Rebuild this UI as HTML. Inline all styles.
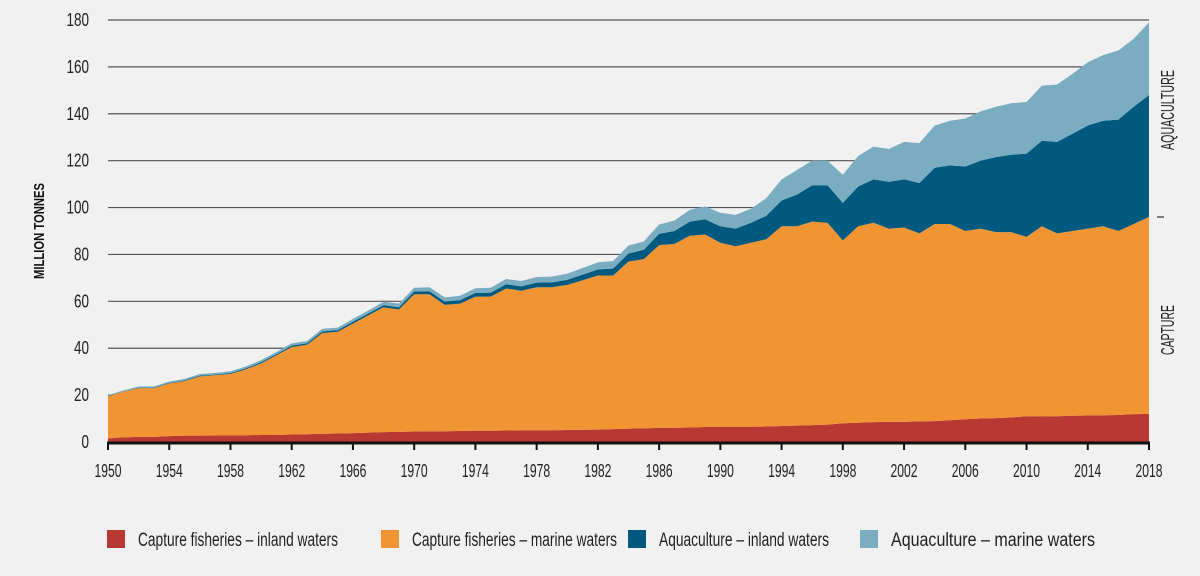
<!DOCTYPE html>
<html><head><meta charset="utf-8">
<style>
html,body{margin:0;padding:0;background:#f1f1f1;}
svg{display:block;font-family:"Liberation Sans Narrow","Liberation Sans",sans-serif;}
</style></head>
<body>
<svg id="chart" width="1200" height="576" viewBox="0 0 1200 576" xmlns="http://www.w3.org/2000/svg">
<rect x="0" y="0" width="1200" height="576" fill="#f1f1f1"/>
<g id="grid"></g>
<g id="areas"></g>
<g id="axes"></g>
<text transform="translate(44,231) rotate(-90)" text-anchor="middle" font-size="15" font-weight="bold" fill="#111" textLength="96" lengthAdjust="spacingAndGlyphs">MILLION TONNES</text>
<text transform="translate(1174,110) rotate(-90)" text-anchor="middle" font-size="18" fill="#222" textLength="80" lengthAdjust="spacingAndGlyphs">AQUACULTURE</text>
<line x1="1157" x2="1164" y1="217" y2="217" stroke="#333" stroke-width="1.2"/>
<text transform="translate(1174,330) rotate(-90)" text-anchor="middle" font-size="18" fill="#222" textLength="50" lengthAdjust="spacingAndGlyphs">CAPTURE</text>
<g id="legend"></g>
</svg>
<script>
const years = [];
for (let y = 1950; y <= 2018; y++) years.push(y);
const captureInland = [1.5,2,2.2,2.2,2.5,2.7,2.7,2.8,2.8,2.9,3,3,3.2,3.3,3.5,3.6,3.8,4,4.2,4.3,4.5,4.6,4.6,4.7,4.8,4.8,4.9,5,5,5,5.1,5.2,5.3,5.5,5.7,5.8,6,6.1,6.2,6.4,6.5,6.5,6.5,6.6,6.8,7,7.2,7.4,8,8.2,8.5,8.6,8.6,8.8,8.9,9.3,9.7,10,10.2,10.5,11,10.9,11,11.2,11.3,11.4,11.5,11.9,12];
const captureMarine = [18,19.5,20.8,20.8,22.5,23.3,25.3,25.7,26.2,28.1,30.5,34,37.3,38.2,43,43.4,46.7,50,53.3,52.2,58.5,58.4,53.9,54.3,57.2,57.2,60.6,59.5,61,61,61.9,63.8,65.7,65.5,71.3,72.2,78,78.4,81.8,82.1,78.5,77,78.5,79.9,85.2,85,86.8,86.1,78,83.8,85,82.4,82.9,80.2,84.1,83.7,80.3,81,79.3,79,76.5,81.1,78,78.8,79.7,80.6,78.5,81.1,84];
const aquaInland = [0.1,0.1,0.2,0.2,0.2,0.3,0.3,0.3,0.4,0.4,0.5,0.5,0.6,0.6,0.7,0.7,0.8,0.8,0.9,1,1.2,1.3,1.4,1.5,1.6,1.7,1.8,1.9,2,2.1,2.2,2.4,2.6,3,3.4,4,4.8,5.5,6,6.5,7,7.5,8.5,10,11,13.5,15.5,16,16,17,18.5,20,20.5,21.5,24,25,27.5,29,32,33,35.5,36.5,39,41.5,44,45,47.5,50,52];
const aquaMarine = [0.4,0.4,0.5,0.5,0.6,0.6,0.7,0.7,0.8,0.8,0.9,0.9,1,1,1.1,1.1,1.2,1.3,1.4,1.5,1.6,1.7,1.8,1.9,2,2.1,2.2,2.3,2.4,2.5,2.6,2.8,3,3.2,3.4,3.6,4,4.5,5,5.5,5.8,5.9,6,7.5,9,10.5,10.5,10.5,12,13,14,14,16,17,18,19,20.5,21,21.5,22,22,23.5,24.5,25.5,27,28,29.5,29,31];
const yTicks = [0,20,40,60,80,100,120,140,160,180];
const xTickYears = [1950,1954,1958,1962,1966,1970,1974,1978,1982,1986,1990,1994,1998,2002,2006,2010,2014,2018];
const seriesNames = ["Capture fisheries – inland waters","Capture fisheries – marine waters","Aquaculture – inland waters","Aquaculture – marine waters"];
const seriesColors = ["#b83832","#f09434","#005a80","#7badc2"];

const NS = "http://www.w3.org/2000/svg";
const X0 = 108, X1 = 1149, Y0 = 442, Y1 = 20;
const xScale = y => X0 + (y - 1950) / (2018 - 1950) * (X1 - X0);
const yScale = v => Y0 - v / 180 * (Y0 - Y1);
function mk(tag, attrs, parent) {
  const e = document.createElementNS(NS, tag);
  for (const k in attrs) e.setAttribute(k, attrs[k]);
  parent.appendChild(e);
  return e;
}
const grid = document.getElementById('grid');
const axes = document.getElementById('axes');
const areas = document.getElementById('areas');
const legend = document.getElementById('legend');

yTicks.forEach(t => {
  if (t > 0) {
    const l = mk('line', {x1: X0, x2: X1, y1: yScale(t), y2: yScale(t), stroke: '#555', 'stroke-width': 1.2}, grid);
    
    
  }
  const w = String(t).length * 7.5;
  const tx = mk('text', {x: 89, y: yScale(t) + 6, 'text-anchor': 'end', 'font-size': 18, fill: '#222', textLength: w, lengthAdjust: 'spacingAndGlyphs'}, axes);
  tx.textContent = t;
  
  
});

const stacks = [captureInland, captureMarine, aquaInland, aquaMarine];
let base = years.map(() => 0);
stacks.forEach((s, i) => {
  const top = base.map((b, j) => b + s[j]);
  let d = '';
  years.forEach((y, j) => { d += (j ? 'L' : 'M') + xScale(y).toFixed(2) + ',' + yScale(top[j]).toFixed(2); });
  for (let j = years.length - 1; j >= 0; j--) d += 'L' + xScale(years[j]).toFixed(2) + ',' + yScale(base[j]).toFixed(2);
  d += 'Z';
  const p = mk('path', {d: d, fill: seriesColors[i]}, areas);
  
  
  base = top;
});

const axis = mk('line', {x1: X0 - 1, x2: X1 + 1, y1: Y0 + 1, y2: Y0 + 1, stroke: '#111', 'stroke-width': 3}, axes);


xTickYears.forEach(y => {
  const tk = mk('line', {x1: xScale(y), x2: xScale(y), y1: Y0, y2: Y0 + 8, stroke: '#111', 'stroke-width': 2}, axes);
  
  
  const tx = mk('text', {x: xScale(y), y: 477, 'text-anchor': 'middle', 'font-size': 18, fill: '#222', textLength: 27, lengthAdjust: 'spacingAndGlyphs'}, axes);
  tx.textContent = y;
  
  
});

const legX = [107, 381, 628, 860];
const legW = [200, 205, 170, 204];
seriesNames.forEach((n, i) => {
  const g = mk('g', {}, legend);
  
  
  const r = mk('rect', {x: legX[i], y: 530, width: 18, height: 18, fill: seriesColors[i]}, g);
  
  
  const t = mk('text', {x: legX[i] + 31, y: 546, 'font-size': 19, fill: '#222', textLength: legW[i], lengthAdjust: 'spacingAndGlyphs'}, g);
  t.textContent = n;
  
  
});
</script>
</body></html>
